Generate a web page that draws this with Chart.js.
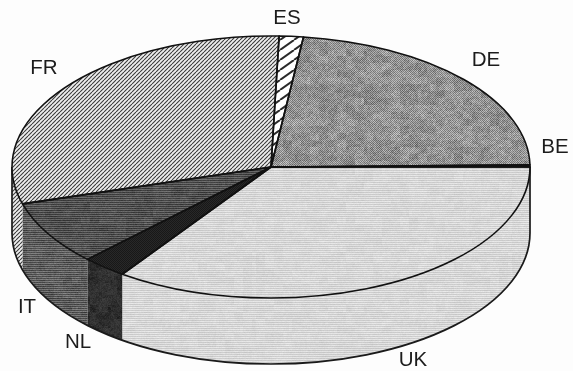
<!DOCTYPE html>
<html>
<head>
<meta charset="utf-8">
<title>Pie</title>
<style>
  html, body { margin: 0; padding: 0; background: #fdfdfd; }
  canvas { display: block; filter: blur(0.45px); }
</style>
<script src="https://cdn.jsdelivr.net/npm/chart.js@4"></script>
</head>
<body>
<canvas id="pie" width="573" height="371"></canvas>
<script>
// values (percent of the circle)
const countries = ['ES', 'DE', 'BE', 'UK', 'NL', 'IT', 'FR'];
const shares = [1.5, 22.7, 0.25, 34.7, 2.8, 7.9, 30.0];

// where the flattened pie sits on the page
const centerX = 271;
const centerY = 167;
const radiusX = 259;
const radiusY = 131;
const depth = 66;
const labelSpots = {
  ES: [287, 18], DE: [486, 60], BE: [555, 147], UK: [413, 360],
  NL: [78, 342], IT: [27, 307], FR: [44, 68]
};

// small textures, a stand-in for the print screens of the scan
function tile(w, h, shade) {
  const c = document.createElement('canvas');
  c.width = w;
  c.height = h;
  const g = c.getContext('2d');
  const img = g.createImageData(w, h);
  for (let y = 0; y < h; y++) {
    for (let x = 0; x < w; x++) {
      const v = shade(x, y);
      const i = (y * w + x) * 4;
      img.data[i] = img.data[i + 1] = img.data[i + 2] = v;
      img.data[i + 3] = 255;
    }
  }
  g.putImageData(img, 0, 0);
  return g.createPattern(c, 'repeat');
}

function hatch(w, h, lineWidth, ink, paper) {
  const c = document.createElement('canvas');
  c.width = w;
  c.height = h;
  const g = c.getContext('2d');
  g.fillStyle = paper;
  g.fillRect(0, 0, w, h);
  g.strokeStyle = ink;
  g.lineWidth = lineWidth;
  for (let k = -w; k <= w; k += w) {
    g.beginPath();
    g.moveTo(k, h);
    g.lineTo(k + w, 0);
    g.stroke();
  }
  return g.createPattern(c, 'repeat');
}

// fixed speckle, the same on every run
function speck(x, y) {
  const s = Math.sin(x * 12.9898 + y * 78.233) * 43758.5453;
  return s - Math.floor(s) - 0.5;
}

// blotches at a few sizes so the big grey areas don't look flat
function mottle(x, y) {
  const cx = Math.floor(x / 9);
  const cy = Math.floor(y / 7);
  return 26 * speck(cx, cy) + 20 * speck(Math.floor(x / 3), Math.floor(y / 3)) + 30 * speck(x, y);
}

const topFills = () => [
  hatch(14, 10, 2, '#2a2a2a', '#fff'),
  tile(256, 256, (x, y) => 146 + ((x + y) % 2 ? 28 : -28) + mottle(x, y)),
  '#fff',
  tile(256, 256, (x, y) => (y % 2 ? 228 : 202) + mottle(x, y) * 0.25),
  tile(64, 64, (x, y) => 32 + ((x + y) % 2 ? 8 : -8)),
  tile(256, 256, (x, y) => (y % 2 ? 104 : 60) + mottle(x, y) * 0.5),
  hatch(4, 4, 1.1, '#3a3a3a', '#eeeeee')
];
const wallFills = topFills();
wallFills[4] = tile(256, 256, (x, y) => 46 + mottle(x, y) * 0.6);
wallFills[5] = tile(256, 256, (x, y) => (y % 2 ? 118 : 70) + mottle(x, y) * 0.6);
const sliceFills = topFills();

function slicePath(ctx, el) {
  ctx.beginPath();
  ctx.moveTo(centerX, centerY);
  ctx.ellipse(centerX, centerY, radiusX, radiusY, 0, el.startAngle, el.endAngle);
  ctx.closePath();
}

const flatPie = {
  id: 'flatPie',
  beforeDatasetsDraw(chart) {
    const ctx = chart.ctx;
    const arcs = chart.getDatasetMeta(0).data;
    const x0 = arcs[0].x;
    const y0 = arcs[0].y;
    const sx = radiusX / arcs[0].outerRadius;
    const sy = radiusY / arcs[0].outerRadius;

    // the rim: only the front half of the circle can be seen
    arcs.forEach((el, i) => {
      [-2 * Math.PI, 0, 2 * Math.PI].forEach(turn => {
        const a = Math.max(el.startAngle + turn, 0);
        const b = Math.min(el.endAngle + turn, Math.PI);
        if (b <= a) return;
        ctx.beginPath();
        ctx.ellipse(centerX, centerY, radiusX, radiusY, 0, a, b);
        ctx.ellipse(centerX, centerY + depth, radiusX, radiusY, 0, b, a, true);
        ctx.closePath();
        ctx.fillStyle = wallFills[i];
        ctx.fill();
      });
    });

    ctx.strokeStyle = '#1a1a1a';
    ctx.lineWidth = 1.7;
    ctx.beginPath();
    ctx.moveTo(centerX - radiusX, centerY);
    ctx.lineTo(centerX - radiusX, centerY + depth);
    ctx.ellipse(centerX, centerY + depth, radiusX, radiusY, 0, Math.PI, 0, true);
    ctx.lineTo(centerX + radiusX, centerY);
    ctx.stroke();

    // squash the library's round pie into an ellipse, keep textures on the pixel grid
    const unsquash = new DOMMatrix().translate(x0, y0).scale(1 / sx, 1 / sy).translate(-centerX, -centerY);
    sliceFills.forEach(f => {
      if (f instanceof CanvasPattern) f.setTransform(unsquash);
    });
    ctx.save();
    ctx.translate(centerX, centerY);
    ctx.scale(sx, sy);
    ctx.translate(-x0, -y0);
  },
  afterDatasetsDraw(chart) {
    const ctx = chart.ctx;
    ctx.restore();

    const arcs = chart.getDatasetMeta(0).data;
    ctx.strokeStyle = '#111';
    ctx.lineWidth = 1.6;
    ctx.lineJoin = 'round';
    arcs.forEach(el => {
      slicePath(ctx, el);
      ctx.stroke();
    });

    ctx.fillStyle = '#1c1c1c';
    ctx.font = '20.5px "Liberation Sans", Arial, sans-serif';
    ctx.textAlign = 'center';
    ctx.textBaseline = 'middle';
    countries.forEach(name => {
      ctx.fillText(name, labelSpots[name][0], labelSpots[name][1]);
    });
  }
};

new Chart(document.getElementById('pie'), {
  type: 'pie',
  data: {
    labels: countries,
    datasets: [{
      data: shares,
      backgroundColor: sliceFills,
      borderWidth: 0
    }]
  },
  options: {
    responsive: false,
    animation: false,
    rotation: 1.8,
    layout: { padding: 0 },
    plugins: {
      legend: { display: false },
      tooltip: { enabled: false }
    }
  },
  plugins: [flatPie]
});
</script>
</body>
</html>
